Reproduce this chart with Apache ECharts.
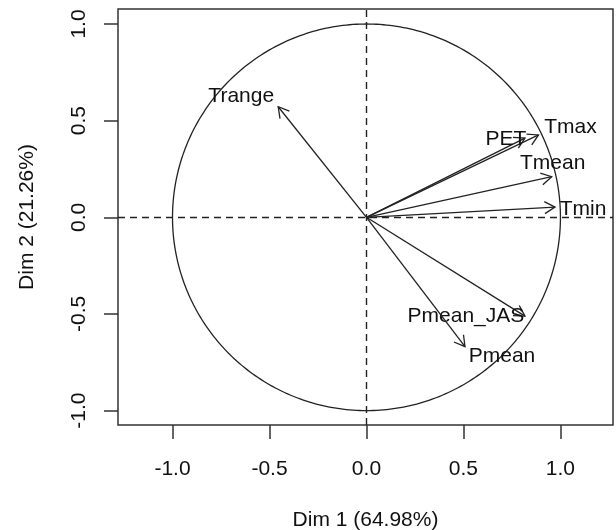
<!DOCTYPE html>
<html>
<head>
<meta charset="utf-8">
<script src="https://cdn.jsdelivr.net/npm/echarts@6/dist/echarts.min.js"></script>
<style>html,body{margin:0;padding:0;background:#fff;}#c{width:616px;height:530px;}</style>
</head>
<body>
<div id="c"></div>
<script>
// ---- data ----
const variables = ['Tmin', 'Tmean', 'Tmax', 'PET', 'Trange', 'Pmean_JAS', 'Pmean'];
const dim1 = [0.972, 0.955, 0.887, 0.817, -0.455, 0.817, 0.508];
const dim2 = [0.053, 0.210, 0.426, 0.410, 0.572, -0.511, -0.669];
const tickValues = [-1, -0.5, 0, 0.5, 1];
const xTitle = 'Dim 1 (64.98%)';
const yTitle = 'Dim 2 (21.26%)';

// ---- layout (label offsets in px, relative to arrow tip) ----
const labelOffset = {
  'Tmin': [28, 2], 'Tmean': [1, -14], 'Tmax': [32, -8], 'PET': [-19, 1],
  'Trange': [-37, -11], 'Pmean_JAS': [-59, 0], 'Pmean': [37, 10]
};
const FONT = 'Liberation Sans, Arial, Helvetica, sans-serif';
const INK = '#222';

const chart = echarts.init(document.getElementById('c'), null, {renderer: 'canvas'});

const arrowData = variables.map((v, i) => [dim1[i], dim2[i], i]);

const option = {
  animation: false,
  backgroundColor: '#fff',
  grid: {left: 118, top: 9, width: 495, height: 416, show: true, borderColor: '#333', borderWidth: 1.5,
         containLabel: false, outerBoundsMode: 'none'},
  xAxis: {
    type: 'value', min: -1.281, max: 1.271,
    splitLine: {show: false},
    axisLine: {show: false, onZero: false},
    axisTick: {show: true, inside: false, length: 14, customValues: tickValues, lineStyle: {color: '#333', width: 1.5}},
    axisLabel: {customValues: tickValues, formatter: v => v.toFixed(1), fontSize: 21, color: '#111', margin: 34, fontFamily: FONT},
    name: xTitle, nameLocation: 'middle', nameGap: 85,
    nameTextStyle: {fontSize: 21, color: '#111', fontFamily: FONT}
  },
  yAxis: {
    type: 'value', min: -1.0745, max: 1.0776,
    splitLine: {show: false},
    axisLine: {show: false, onZero: false},
    axisTick: {show: true, inside: false, length: 14, customValues: tickValues, lineStyle: {color: '#333', width: 1.5}},
    axisLabel: {customValues: tickValues, formatter: v => v.toFixed(1), fontSize: 21, color: '#111', margin: 28, rotate: 90, fontFamily: FONT},
    name: yTitle, nameLocation: 'middle', nameGap: 80, nameRotate: 90,
    nameTextStyle: {fontSize: 21, color: '#111', fontFamily: FONT}
  },
  series: [
    {
      // unit circle + dashed axes
      type: 'custom',
      data: [[0, 0]],
      encode: {x: 0, y: 1},
      silent: true,
      z: 1,
      renderItem: function (params, api) {
        const pts = [];
        for (let k = 0; k <= 360; k++) {
          const a = k * Math.PI / 180;
          pts.push(api.coord([Math.cos(a), Math.sin(a)]));
        }
        return {type: 'polyline', shape: {points: pts}, style: {stroke: INK, lineWidth: 1.3, fill: null}};
      },
      markLine: {
        silent: true, symbol: 'none', label: {show: false},
        lineStyle: {color: INK, type: [7, 5], width: 1.4},
        data: [{xAxis: 0}, {yAxis: 0}]
      }
    },
    {
      type: 'custom',
      data: arrowData,
      encode: {x: 0, y: 1},
      silent: true,
      clip: false,
      z: 3,
      renderItem: function (params, api) {
        const o = api.coord([0, 0]);
        const p = api.coord([api.value(0), api.value(1)]);
        const idx = api.value(2);
        const name = variables[idx];
        const ang = Math.atan2(p[1] - o[1], p[0] - o[0]);
        const L = 12, spread = Math.PI / 6;
        const h1 = [p[0] - L * Math.cos(ang - spread), p[1] - L * Math.sin(ang - spread)];
        const h2 = [p[0] - L * Math.cos(ang + spread), p[1] - L * Math.sin(ang + spread)];
        const off = labelOffset[name];
        return {
          type: 'group',
          children: [
            {type: 'line', shape: {x1: o[0], y1: o[1], x2: p[0], y2: p[1]}, style: {stroke: INK, lineWidth: 1.3}},
            {type: 'polyline', shape: {points: [h1, p, h2]}, style: {stroke: INK, lineWidth: 1.3, fill: null}},
            {type: 'text', x: p[0] + off[0], y: p[1] + off[1],
             style: {text: name, fontSize: 21, fontFamily: FONT, fill: '#111', align: 'center', verticalAlign: 'middle'}}
          ]
        };
      }
    }
  ]
};
chart.setOption(option);
</script>
</body>
</html>
